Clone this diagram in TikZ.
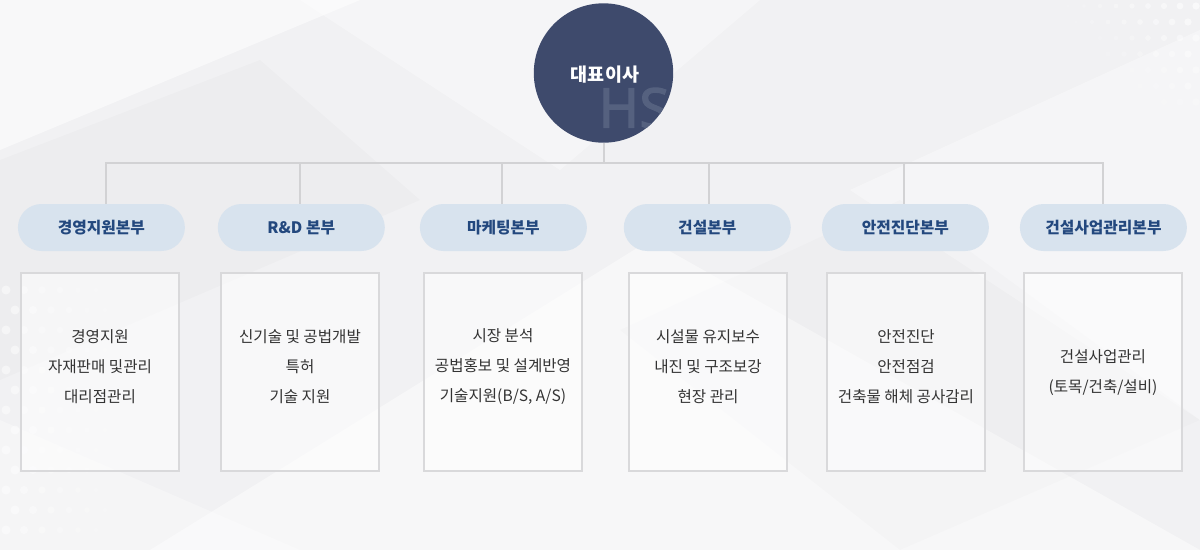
\documentclass[tikz,border=0pt]{standalone}
\usepackage{fontspec}
\newfontfamily\kr{Noto Sans CJK KR}
\newfontfamily\hsfont[FakeBold=2]{Noto Sans}
\definecolor{bg}{HTML}{F1F1F3}
\definecolor{ceoc}{HTML}{3E4A6C}
\definecolor{pillfill}{HTML}{D8E3EE}
\definecolor{pilltext}{HTML}{23487E}
\definecolor{linec}{HTML}{D2D2D4}
\definecolor{boxline}{HTML}{D9D9DB}
\definecolor{txt}{HTML}{333333}
\definecolor{hsc}{HTML}{55617F}
\tikzset{
  pill/.style={rectangle, rounded corners=23.5pt, fill=pillfill, minimum width=167pt, minimum height=47pt, inner sep=0pt, text=pilltext, font=\kr\bfseries\fontsize{15.8}{18}\selectfont},
  deptbox/.style={rectangle, draw=boxline, line width=2pt, fill=white, fill opacity=0.5, minimum width=158pt, minimum height=198pt, inner sep=0pt},
  boxtext/.style={align=center, text=txt, inner sep=0pt, font=\kr\fontsize{15.6}{30}\selectfont},
  conn/.style={draw=linec, line width=2pt},
  dot/.style={fill=white}
}
\begin{document}
\begin{tikzpicture}[x=1pt,y=-1pt]
\fill[bg] (0,0) rectangle (1200,550);
\useasboundingbox (0,0) rectangle (1200,550);
% background facets
\fill[white, opacity=0.55] (0,0) -- (360,0) -- (0,150) -- cycle;
\fill[white, opacity=0.35] (300,0) -- (760,0) -- (560,170) -- cycle;
\fill[white, opacity=0.45] (150,550) -- (650,240) -- (1200,550) -- cycle;
\fill[white, opacity=0.35] (850,190) -- (1200,30) -- (1200,420) -- cycle;
\fill[black, opacity=0.015] (0,160) -- (260,60) -- (420,200) -- (0,380) -- cycle;
\fill[black, opacity=0.012] (620,330) -- (900,200) -- (1200,420) -- (900,550) -- cycle;
\fill[white, opacity=0.3] (0,420) -- (300,550) -- (0,550) -- cycle;
% dots
\foreach \i in {0,...,6}{\foreach \j in {0,...,12}{
  \fill[dot, fill opacity={0.45-0.06*\i}] ({6+18*\i+9*mod(\j,2)}, 290+20*\j) circle ({4.5-0.45*\i});
}}
\foreach \i in {0,...,9}{\foreach \j in {0,...,6}{
  \fill[dot, fill opacity={0.6-0.06*\i-0.06*\j}] ({1196-16*\i-8*mod(\j,2)}, 6+16*\j) circle ({3.6-0.25*\i});
}}
% CEO circle
\node[circle, fill=ceoc, minimum size=139.4pt, inner sep=0pt] (ceo) at (603.5,73) {};
\begin{scope}
  \clip (603.5,73) circle (69.7pt);
  \node[text=hsc, inner sep=0pt, font=\hsfont\fontsize{55}{55}\selectfont] (hs) at (634,108) {HS};
\end{scope}
\node[text=white, inner sep=0pt, font=\kr\bfseries\fontsize{18.5}{20}\selectfont] (ceot) at (605,75) {대표이사};
% pills
\node[pill] (p1) at (101.4,227.5) {경영지원본부};
\node[pill] (p2) at (301.3,227.5) {R\&D 본부};
\node[pill] (p3) at (503.4,227.5) {마케팅본부};
\node[pill] (p4) at (707.3,227.5) {건설본부};
\node[pill] (p5) at (905.4,227.5) {안전진단본부};
\node[pill] (p6) at (1103.4,227.5) {건설사업관리본부};
% connectors
\coordinate (t1) at (106,162.7);
\coordinate (t2) at (300,162.7);
\coordinate (t3) at (502,162.7);
\coordinate (t4) at (709,162.7);
\coordinate (t5) at (904,162.7);
\coordinate (t6) at (1102.5,162.7);
\coordinate (tc) at (603.5,162.7);
\draw[conn] (ceo.south) -- (tc);
\draw[conn, line cap=rect] (t1) -- (t6);
\draw[conn] (t1) -- (t1 |- p1.north);
\draw[conn] (t2) -- (t2 |- p2.north);
\draw[conn] (t3) -- (t3 |- p3.north);
\draw[conn] (t4) -- (t4 |- p4.north);
\draw[conn] (t5) -- (t5 |- p5.north);
\draw[conn] (t6) -- (t6 |- p6.north);
% boxes
\node[deptbox] (b1) at (100,372) {};
\node[deptbox] (b2) at (300,372) {};
\node[deptbox] (b3) at (503,372) {};
\node[deptbox] (b4) at (708,372) {};
\node[deptbox] (b5) at (906,372) {};
\node[deptbox] (b6) at (1103,372) {};
\node[boxtext] (x1) at (100,367) {경영지원\\자재판매 및관리\\대리점관리};
\node[boxtext] (x2) at (300,367) {신기술 및 공법개발\\특허\\기술 지원};
\node[boxtext] (x3) at (503,367) {시장 분석\\공법홍보 및 설계반영\\기술지원(B/S, A/S)};
\node[boxtext] (x4) at (708,367) {시설물 유지보수\\내진 및 구조보강\\현장 관리};
\node[boxtext] (x5) at (906,367) {안전진단\\안전점검\\건축물 해체 공사감리};
\node[boxtext] (x6) at (1103,372.5) {건설사업관리\\(토목/건축/설비)};
\end{tikzpicture}
\end{document}
